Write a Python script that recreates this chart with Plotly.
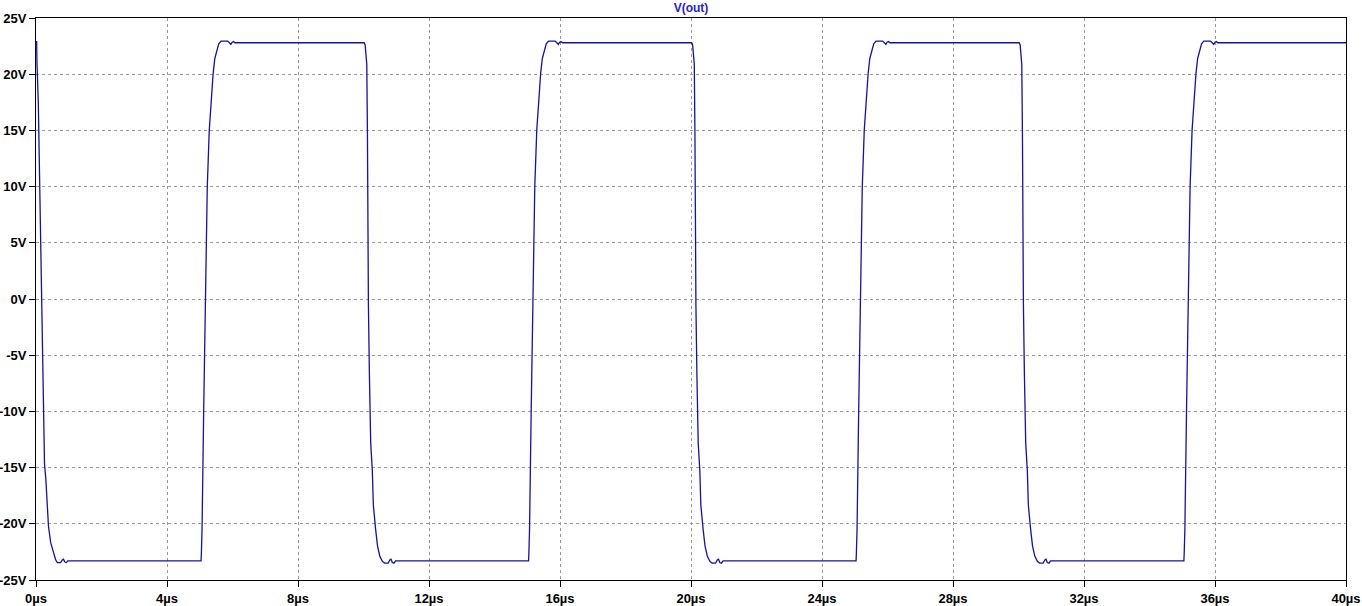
import plotly.graph_objects as go

# Time axis in microseconds, voltage in volts
t_us = [
    0.00, 0.02, 0.03, 0.07, 0.12, 0.15, 0.18, 0.20, 0.22, 0.26, 0.30, 0.34, 0.38, 0.45, 0.53, 0.60, 0.65, 0.75, 0.81, 0.84, 0.88, 0.93, 0.97,
    5.04, 5.05, 5.07, 5.12, 5.165, 5.23, 5.29, 5.36, 5.41, 5.46, 5.52, 5.58, 5.65, 5.85, 5.92, 5.95, 5.99, 6.03, 6.08,
    10.02, 10.05, 10.10, 10.12, 10.13, 10.15, 10.18, 10.22, 10.27, 10.30, 10.37, 10.43, 10.50, 10.58, 10.65, 10.75, 10.81, 10.84, 10.88, 10.93, 10.98,
    15.04, 15.05, 15.07, 15.12, 15.165, 15.23, 15.29, 15.36, 15.41, 15.46, 15.52, 15.58, 15.65, 15.85, 15.92, 15.95, 15.99, 16.03, 16.08,
    20.02, 20.05, 20.10, 20.12, 20.13, 20.15, 20.18, 20.22, 20.27, 20.30, 20.37, 20.43, 20.50, 20.58, 20.65, 20.75, 20.81, 20.84, 20.88, 20.93, 20.98,
    25.04, 25.05, 25.07, 25.12, 25.165, 25.23, 25.29, 25.36, 25.41, 25.46, 25.52, 25.58, 25.65, 25.85, 25.92, 25.95, 25.99, 26.03, 26.08,
    30.02, 30.05, 30.10, 30.12, 30.13, 30.15, 30.18, 30.22, 30.27, 30.30, 30.37, 30.43, 30.50, 30.58, 30.65, 30.75, 30.81, 30.84, 30.88, 30.93, 30.98,
    35.05, 35.06, 35.08, 35.13, 35.175, 35.24, 35.30, 35.37, 35.42, 35.47, 35.53, 35.59, 35.66, 35.86, 35.93, 35.96, 36.00, 36.04, 36.09,
    40.00,
]
v_out = [
    22.9, 22.9, 21.0, 17.5, 9.0, 3.0, -3.0, -6.7, -11.0, -14.7, -16.0, -18.3, -20.2, -21.7, -22.6, -23.2, -23.45, -23.45, -23.2, -23.15, -23.4, -23.45, -23.3,
    -23.3, -22.6, -20.5, -10.0, 0.0, 10.0, 15.0, 18.6, 20.1, 21.4, 22.2, 22.7, 22.95, 22.95, 22.75, 22.65, 22.85, 22.9, 22.8,
    22.8, 22.6, 20.9, 14.8, 6.2, -0.5, -6.7, -12.8, -15.3, -18.3, -20.5, -22.0, -22.9, -23.35, -23.5, -23.5, -23.2, -23.15, -23.45, -23.5, -23.3,
    -23.3, -22.6, -20.5, -10.0, 0.0, 10.0, 15.0, 18.6, 20.1, 21.4, 22.2, 22.7, 22.95, 22.95, 22.75, 22.65, 22.85, 22.9, 22.8,
    22.8, 22.6, 20.9, 14.8, 6.2, -0.5, -6.7, -12.8, -15.3, -18.3, -20.5, -22.0, -22.9, -23.35, -23.5, -23.5, -23.2, -23.15, -23.45, -23.5, -23.3,
    -23.3, -22.6, -20.5, -10.0, 0.0, 10.0, 15.0, 18.6, 20.1, 21.4, 22.2, 22.7, 22.95, 22.95, 22.75, 22.65, 22.85, 22.9, 22.8,
    22.8, 22.6, 20.9, 14.8, 6.2, -0.5, -6.7, -12.8, -15.3, -18.3, -20.5, -22.0, -22.9, -23.35, -23.5, -23.5, -23.2, -23.15, -23.45, -23.5, -23.3,
    -23.3, -22.6, -20.5, -10.0, 0.0, 10.0, 15.0, 18.6, 20.1, 21.4, 22.2, 22.7, 22.95, 22.95, 22.75, 22.65, 22.85, 22.9, 22.8,
    22.8,
]

x_ticks = [0, 4, 8, 12, 16, 20, 24, 28, 32, 36, 40]
x_tick_labels = ["0µs", "4µs", "8µs", "12µs", "16µs", "20µs", "24µs", "28µs", "32µs", "36µs", "40µs"]
y_ticks = [-25, -20, -15, -10, -5, 0, 5, 10, 15, 20, 25]
y_tick_labels = ["-25V", "-20V", "-15V", "-10V", "-5V", "0V", "5V", "10V", "15V", "20V", "25V"]

trace_name = "V(out)"

fig = go.Figure()
fig.add_trace(go.Scatter(
    x=t_us, y=v_out, mode="lines", name=trace_name,
    line=dict(color="#1414a0", width=1.3),
))

axis_common = dict(
    showline=True, linecolor="black", linewidth=1, mirror=True,
    showgrid=True, gridcolor="#9a9a9a", gridwidth=1, griddash="3px,3px",
    zeroline=False, automargin=False,
    ticks="outside", ticklen=6, tickcolor="black", tickwidth=1,
    tickfont=dict(family="Liberation Sans, Arial, sans-serif", size=13, color="black", weight="bold"),
)

fig.update_xaxes(range=[0, 40], tickmode="array", tickvals=x_ticks, ticktext=x_tick_labels, **axis_common)
fig.update_yaxes(range=[-25, 25], tickmode="array", tickvals=y_ticks, ticktext=y_tick_labels, ticklabelstandoff=0, **axis_common)

fig.update_layout(
    width=1362, height=606,
    margin=dict(l=36, r=16, t=18, b=26, autoexpand=False),
    paper_bgcolor="white", plot_bgcolor="white",
    showlegend=False,
    title=dict(text=trace_name, x=0.5, xref="paper", y=1, yref="container", yanchor="top", pad=dict(t=4),
               font=dict(family="Liberation Sans, Arial, sans-serif", size=12, color="#2424c8", weight="bold")),
)

fig.write_html(
    "out.html",
    config={"displayModeBar": False},
    post_script="document.body.style.margin='0';document.body.style.overflow='hidden';",
)
